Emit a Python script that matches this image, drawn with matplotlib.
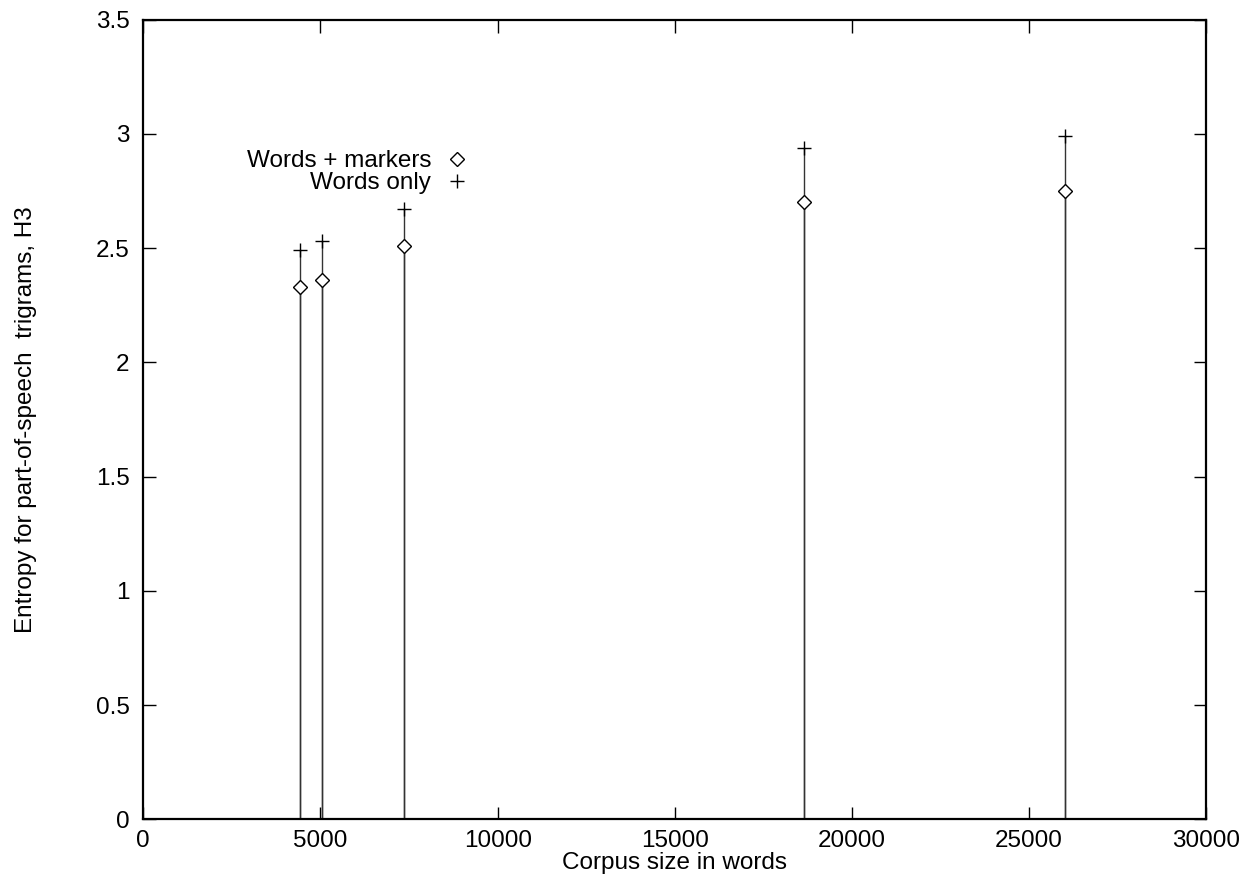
import matplotlib
matplotlib.use("Agg")
import matplotlib.pyplot as plt
from matplotlib.lines import Line2D

plt.rcParams['font.family'] = ['Liberation Sans', 'DejaVu Sans']

corpus_size = [4410, 5040, 7350, 18640, 26000]
words_markers = [2.33, 2.36, 2.51, 2.70, 2.75]
words_only = [2.49, 2.53, 2.67, 2.94, 2.99]
x_ticks = [0, 5000, 10000, 15000, 20000, 25000, 30000]
y_ticks = [0, 0.5, 1, 1.5, 2, 2.5, 3, 3.5]

FS = 17.5

fig = plt.figure(figsize=(12.47, 8.8), dpi=100)
ax = fig.add_axes([0.1149, 0.069, 0.9674 - 0.1149, 0.9776 - 0.069])

ax.vlines(corpus_size, 0, words_only, colors='#333333', linewidth=1.0)
ax.vlines(corpus_size, 0, words_markers, colors='#333333', linewidth=1.0)
ax.plot(corpus_size, words_markers, linestyle='none', marker='D', markersize=7,
        markerfacecolor='white', markeredgecolor='black', markeredgewidth=1.0)
ax.plot(corpus_size, words_only, linestyle='none', marker='+', markersize=10,
        color='black', markeredgewidth=1.0)

ax.set_xlim(0, 30000)
ax.set_ylim(0, 3.5)
ax.set_xticks(x_ticks)
ax.set_xticklabels([str(t) for t in x_ticks])
ax.set_yticks(y_ticks)
ax.set_yticklabels(['0', '0.5', '1', '1.5', '2', '2.5', '3', '3.5'])
ax.tick_params(direction='in', length=9, width=1.0, top=True, right=True,
               labelsize=FS, pad=10)
ax.tick_params(axis='x', pad=8)
for s in ax.spines.values():
    s.set_linewidth(1.6)

ax.set_xlabel('Corpus size in words', fontsize=FS, labelpad=0)
ax.set_ylabel('Entropy for part-of-speech  trigrams, H3', fontsize=FS, labelpad=42)

handles = [
    Line2D([], [], linestyle='none', marker='D', markersize=7,
           markerfacecolor='white', markeredgecolor='black', markeredgewidth=1.0),
    Line2D([], [], linestyle='none', marker='+', markersize=10,
           color='black', markeredgewidth=1.0),
]
leg = ax.legend(handles, ['Words + markers', 'Words only'], frameon=False,
                markerfirst=False, fontsize=FS, handlelength=1.0,
                handletextpad=0.55, labelspacing=0.0, borderpad=0,
                loc='upper right', bbox_to_anchor=(481 / 1247, 1 - 138 / 880),
                bbox_transform=fig.transFigure)

fig.savefig('out.png', dpi=100)
